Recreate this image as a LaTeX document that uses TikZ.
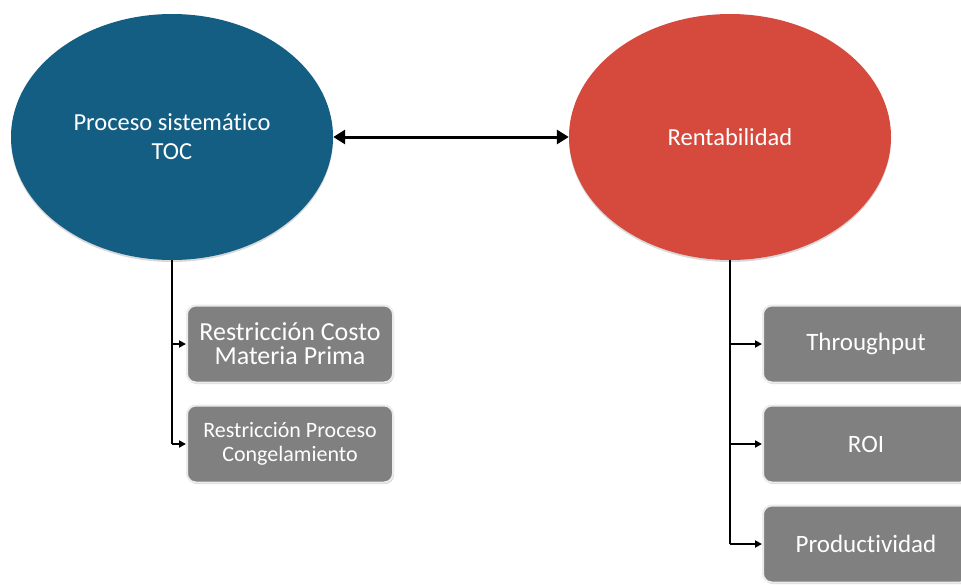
\documentclass[tikz,border=0pt]{standalone}
\usepackage{fontspec}
\setmainfont{Carlito}[Ligatures=NoCommon]
\usetikzlibrary{arrows.meta,shadows,shapes.geometric}
\definecolor{tocblue}{RGB}{21,94,131}
\definecolor{rentred}{RGB}{213,74,61}
\definecolor{boxgray}{RGB}{128,128,128}
\tikzset{
  bigell/.style={ellipse, draw=none, minimum width=322pt, minimum height=246pt, inner sep=0pt, text=white, font=\fontsize{24.5}{29}\selectfont, align=center, drop shadow={shadow xshift=0pt, shadow yshift=-2pt, opacity=0.3}},
  graybox/.style={rectangle, rounded corners=9pt, fill=boxgray, draw=white!92!black, line width=2pt, minimum width=206pt, minimum height=77pt, inner sep=2pt, text=white, align=center, font=\fontsize{25}{24}\selectfont, drop shadow={shadow xshift=1pt, shadow yshift=-1.5pt, opacity=0.35}},
  mainconn/.style={line width=3pt, {Triangle[length=12pt,width=14pt]}-{Triangle[length=12pt,width=14pt]}},
  branch/.style={line width=2pt, -{Triangle[length=7pt,width=7pt]}},
}
\begin{document}
\begin{tikzpicture}[x=1pt,y=-1pt]
\useasboundingbox (0,0) rectangle (961,584);
\begin{scope}
\clip (0,0) rectangle (961,584);
\node[bigell, fill=tocblue] (toc) at (172,137) {Proceso sistemático\\TOC};
\node[bigell, fill=rentred] (rent) at (730,137) {Rentabilidad};
\draw[mainconn] (toc.east) -- (rent.west);

\node[graybox, font=\fontsize{26}{24}\selectfont] (b1) at (290,344) {Restricción Costo\\Materia Prima};
\node[graybox, font=\fontsize{22}{24}\selectfont] (b2) at (290,444) {Restricción Proceso\\Congelamiento};
\node[graybox] (b3) at (866,344) {Throughput};
\node[graybox] (b4) at (866,444) {ROI};
\node[graybox] (b5) at (866,544) {Productividad};

\coordinate (tb) at (toc.south);
\coordinate (rb) at (rent.south);
\draw[line width=2pt] (tb) -- (tb |- b2.west);
\draw[branch] (tb |- b1.west) -- (b1.west);
\draw[branch] (tb |- b2.west) -- (b2.west);
\draw[line width=2pt] (rb) -- (rb |- b5.west);
\draw[branch] (rb |- b3.west) -- (b3.west);
\draw[branch] (rb |- b4.west) -- (b4.west);
\draw[branch] (rb |- b5.west) -- (b5.west);
\end{scope}
\end{tikzpicture}
\end{document}
